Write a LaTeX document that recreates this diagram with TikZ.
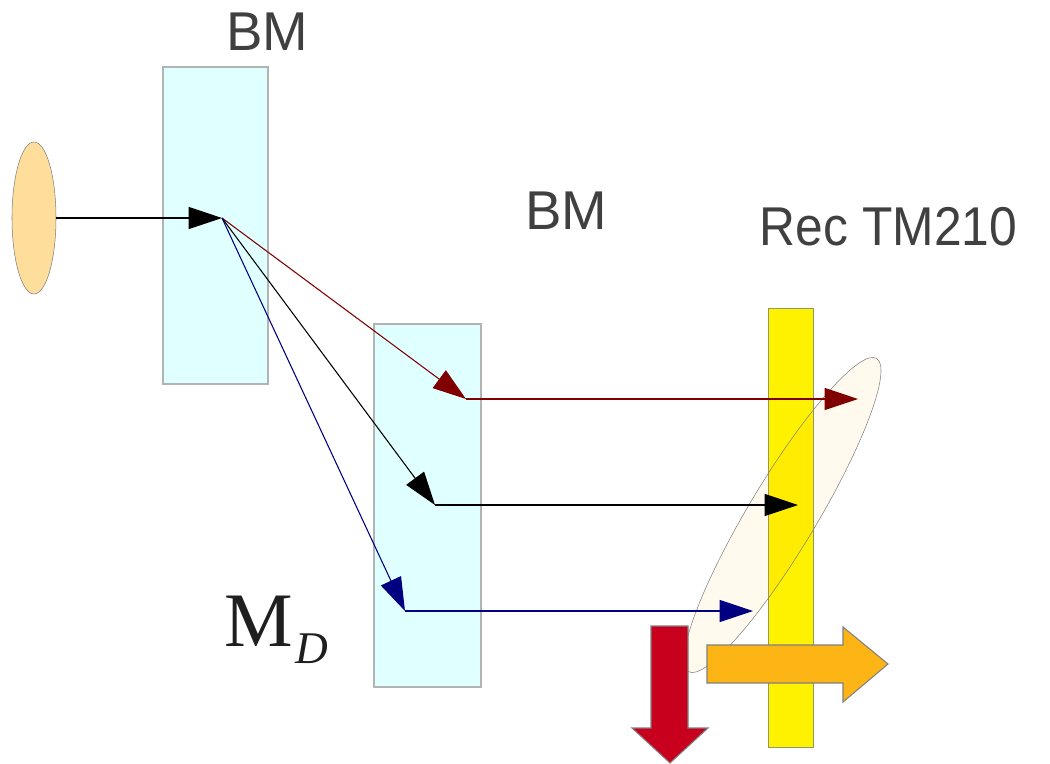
\documentclass[tikz,border=0pt]{standalone}
\usepackage{fontspec}
\newfontfamily\labelfont{Liberation Sans}
\newfontfamily\symbolfont{Liberation Serif}
\usetikzlibrary{arrows.meta,shapes.geometric}
\definecolor{splitcyan}{RGB}{224,255,255}
\definecolor{splitgray}{RGB}{176,180,180}
\definecolor{srcorange}{RGB}{255,221,155}
\definecolor{bargray}{RGB}{150,150,100}
\definecolor{fieldtint}{RGB}{255,170,20}
\definecolor{beamred}{RGB}{128,0,0}
\definecolor{beamnavy}{RGB}{0,0,128}
\definecolor{downred}{RGB}{200,0,30}
\definecolor{rightorange}{RGB}{253,181,21}
\definecolor{labelgray}{RGB}{64,64,64}

\begin{document}
\begin{tikzpicture}[x=0.75pt, y=-0.75pt,
  splitter/.style={draw=splitgray, line width=1.1pt, fill=splitcyan, inner sep=0pt, outer sep=0pt},
  beam/.style={line width=0.8pt, -{Triangle[length=25pt, width=16.5pt]}},
  fat/.style={draw=gray, line width=0.8pt},
  caption/.style={font=\labelfont\fontsize{41}{48}\selectfont, text=labelgray, inner sep=0pt, anchor=base}]

\useasboundingbox (0,0) rectangle (1050,764);

\node[splitter, minimum width=78.75pt, minimum height=237.75pt] (BM1) at (215.5,225.5) {};
\node[splitter, minimum width=80.25pt, minimum height=272.25pt] (BM2) at (427.5,505.5) {};
\node[ellipse, draw=gray, fill=srcorange, inner sep=0pt, minimum width=33pt, minimum height=114pt] (src) at (34,218) {};
\node[draw=bargray, fill=yellow, inner sep=0pt, minimum width=33.75pt, minimum height=329.25pt] (rec) at (790.5,527.5) {};
\node[ellipse, draw=gray, fill=fieldtint, fill opacity=0.07, rotate=59, minimum width=274pt, minimum height=51pt] (field) at (782.5,515) {};

\coordinate (hit) at (222,218);
\coordinate (pR) at (466,399);
\coordinate (pK) at (435,505);
\coordinate (pB) at (405,611);
\coordinate (eR) at (858,399);
\coordinate (eK) at (798,505);
\coordinate (eB) at (753,611);

\draw[beam] (src.east) -- (hit);
\draw[beam, beamred] (hit) -- (pR);
\draw[beam] (hit) -- (pK);
\draw[beam, beamnavy] (hit) -- (pB);
\draw[beam, beamred] (pR) -- (eR);
\draw[beam] (pK) -- (eK);
\draw[beam, beamnavy] (pB) -- (eB);

% fat arrows
\draw[fat, fill=downred] (651,626) -- (688,626) -- (688,728) -- (708,728) -- (670,763) -- (632,728) -- (651,728) -- cycle;
\draw[fat, fill=rightorange] (707,645) -- (843,645) -- (843,627) -- (888,664) -- (843,702) -- (843,683) -- (707,683) -- cycle;

\node[caption] (lblA) at (267.5,50) {BM};
\node[caption] (lblB) at (566,229) {BM};
\node[caption, xscale=0.91, transform shape] (lblRec) at (888.5,245) {Rec TM210};
\node[inner sep=0pt, anchor=base west, text=black!88, font=\symbolfont\fontsize{57.8}{60}\selectfont] (lblMD) at (224,646) {M\kern2pt\raisebox{-12.75pt}{\fontsize{34}{36}\selectfont\itshape D}};
\end{tikzpicture}
\end{document}
